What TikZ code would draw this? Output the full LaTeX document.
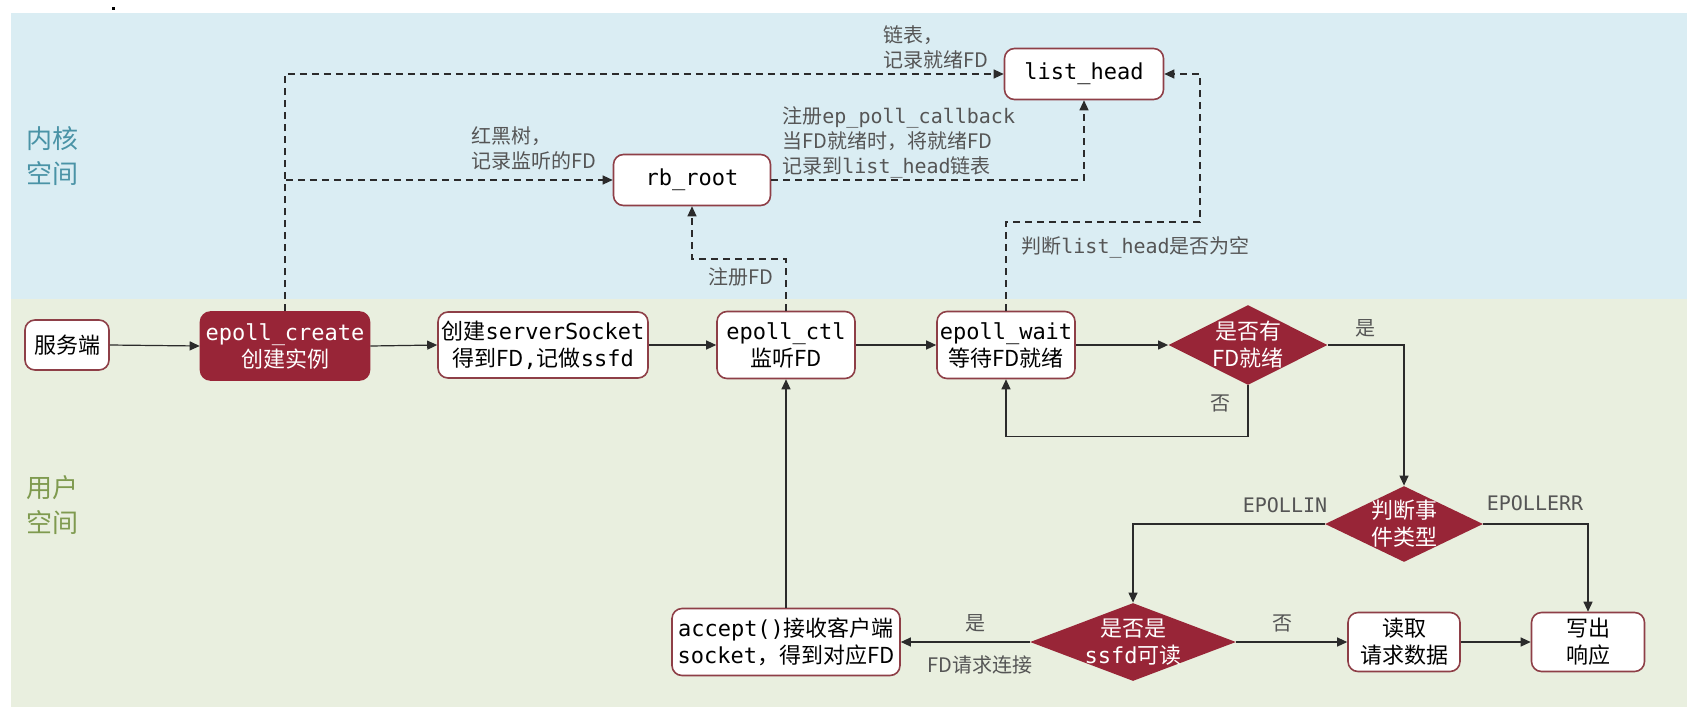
\documentclass[tikz,border=0pt]{standalone}
\usepackage{fontspec}
\setmainfont{Noto Sans CJK SC}
\setmonofont{DejaVu Sans Mono}
\usetikzlibrary{shapes.geometric,arrows.meta}
\definecolor{bgblue}{HTML}{DAEDF3}
\definecolor{bggreen}{HTML}{E9EFDF}
\definecolor{dred}{HTML}{982537}
\definecolor{bord}{HTML}{8E3F47}
\definecolor{lblc}{HTML}{555555}
\definecolor{kern}{HTML}{4A93A6}
\definecolor{usr}{HTML}{7F9A4F}
\definecolor{lnc}{HTML}{2B2B2B}
\begin{document}
\begin{tikzpicture}[x=0.5pt,y=-0.5pt,
 box/.style={draw=bord, line width=0.8pt, fill=white, rounded corners=5pt, align=center, inner sep=0pt, font=\fontsize{11}{13.5}\selectfont, text=black},
 redbox/.style={box, fill=dred, draw=dred, text=white},
 dia/.style={diamond, fill=dred, inner sep=0pt},
 diatext/.style={text=white, align=center, inner sep=0pt, font=\fontsize{11}{13.5}\selectfont},
 lbl/.style={text=lblc, font=\fontsize{10}{12.5}\selectfont, align=left, inner sep=0pt},
 title/.style={font=\fontsize{13}{17.5}\selectfont, align=left, inner sep=0pt},
 arr/.style={draw=lnc, line width=0.6pt, -{Triangle[length=5pt,width=4.5pt]}},
 darr/.style={arr, dash pattern=on 3.5pt off 2.5pt},
]
\useasboundingbox (0,0) rectangle (1700,718);
\fill[white] (0,0) rectangle (1700,718);
\fill[bgblue] (11,13) rectangle (1687,299);
\fill[bggreen] (11,299) rectangle (1687,707);
\fill[black] (112,7) rectangle (115,10);

% section titles
\node[title, text=kern, anchor=west] (tk) at (26,156) {内核\\空间};
\node[title, text=usr, anchor=west] (tu) at (26,505) {用户\\空间};

% nodes
\node[box, minimum width=42pt, minimum height=25pt] (srv) at (67,345) {服务端};
\node[redbox, minimum width=84.5pt, minimum height=34pt] (ec) at (285,346) {\texttt{epoll\_create}\\创建实例};
\node[box, minimum width=105pt, minimum height=33pt] (ss) at (543,345) {创建\texttt{serverSocket}\\得到FD\texttt{,}记做\texttt{ssfd}};
\node[box, minimum width=69pt, minimum height=33.5pt] (ctl) at (786,345) {\texttt{epoll\_ctl}\\监听FD};
\node[box, minimum width=69pt, minimum height=33.5pt] (wait) at (1006,345) {\texttt{epoll\_wait}\\等待FD就绪};
\node[dia, minimum width=79.5pt, minimum height=40pt] (d1) at (1248,345) {};
\node[diatext] at (d1) {是否有\\FD就绪};
\node[dia, minimum width=79pt, minimum height=38pt] (d2) at (1404,524) {};
\node[diatext] at (d2) {判断事\\件类型};
\node[dia, minimum width=103pt, minimum height=39pt] (d3) at (1133,642) {};
\node[diatext] at (d3) {是否是\\\texttt{ssfd}可读};
\node[box, minimum width=114pt, minimum height=33.5pt] (acc) at (786,642) {\texttt{accept()}接收客户端\\\texttt{socket}，得到对应FD};
\node[box, minimum width=56pt, minimum height=29.5pt] (rd) at (1404,642) {读取\\请求数据};
\node[box, minimum width=56.5pt, minimum height=29.5pt] (wr) at (1588,642) {写出\\响应};
\node[box, minimum width=78.5pt, minimum height=25.5pt] (rb) at (692,180) {\texttt{rb\_root}};
\node[box, minimum width=79.5pt, minimum height=25.5pt] (lh) at (1084,74) {\texttt{list\_head}};

% solid connectors
\draw[arr] (srv.east) -- (ec.west);
\draw[arr] (ec.east) -- (ss.west);
\draw[arr] (ss.east) -- (ctl.west);
\draw[arr] (ctl.east) -- (wait.west);
\draw[arr] (wait.east) -- (d1.west);
\draw[arr] (d1.east) -| (d2.north);
\draw[arr] (d1.south) -- ++(0,51) -| (wait.south);
\draw[arr] (d2.west) -| (d3.north);
\draw[arr] (d2.east) -| (wr.north);
\draw[arr] (d3.west) -- (acc.east);
\draw[arr] (d3.east) -- (rd.west);
\draw[arr] (rd.east) -- (wr.west);
\draw[arr] (acc.north) -- (ctl.south);

% dashed connectors
\coordinate (k1) at (786,259);
\coordinate (k2) at (1200,222);
\draw[darr] (ec.north) |- (lh.west);
\draw[darr] (ec.north) |- (rb.west);
\draw[darr] (rb.east) -| (lh.south);
\draw[darr] (ctl.north) -- (k1) -| (rb.south);
\draw[darr] (wait.north) |- (k2) |- (lh.east);

% labels
\node[lbl, anchor=west] (l1) at (471,148) {红黑树，\\记录监听的FD};
\node[lbl, anchor=west] (l2) at (883,47) {链表，\\记录就绪FD};
\node[lbl, anchor=west] (l3) at (782,142) {注册\texttt{ep\_poll\_callback}\\当FD就绪时，将就绪FD\\记录到\texttt{list\_head}链表};
\node[lbl, anchor=east] (l4) at (774,277) {注册FD};
\node[lbl, anchor=west] (l5) at (1021,247) {判断\texttt{list\_head}是否为空};
\node[lbl] (l6) at (1365,328) {是};
\node[lbl] (l7) at (1220,403) {否};
\node[lbl] (l8) at (1285,505) {\texttt{EPOLLIN}};
\node[lbl] (l9) at (1535,503) {\texttt{EPOLLERR}};
\node[lbl] (l10) at (975,623) {是};
\node[lbl] (l11) at (980,665) {FD请求连接};
\node[lbl] (l12) at (1282,623) {否};
\end{tikzpicture}
\end{document}
